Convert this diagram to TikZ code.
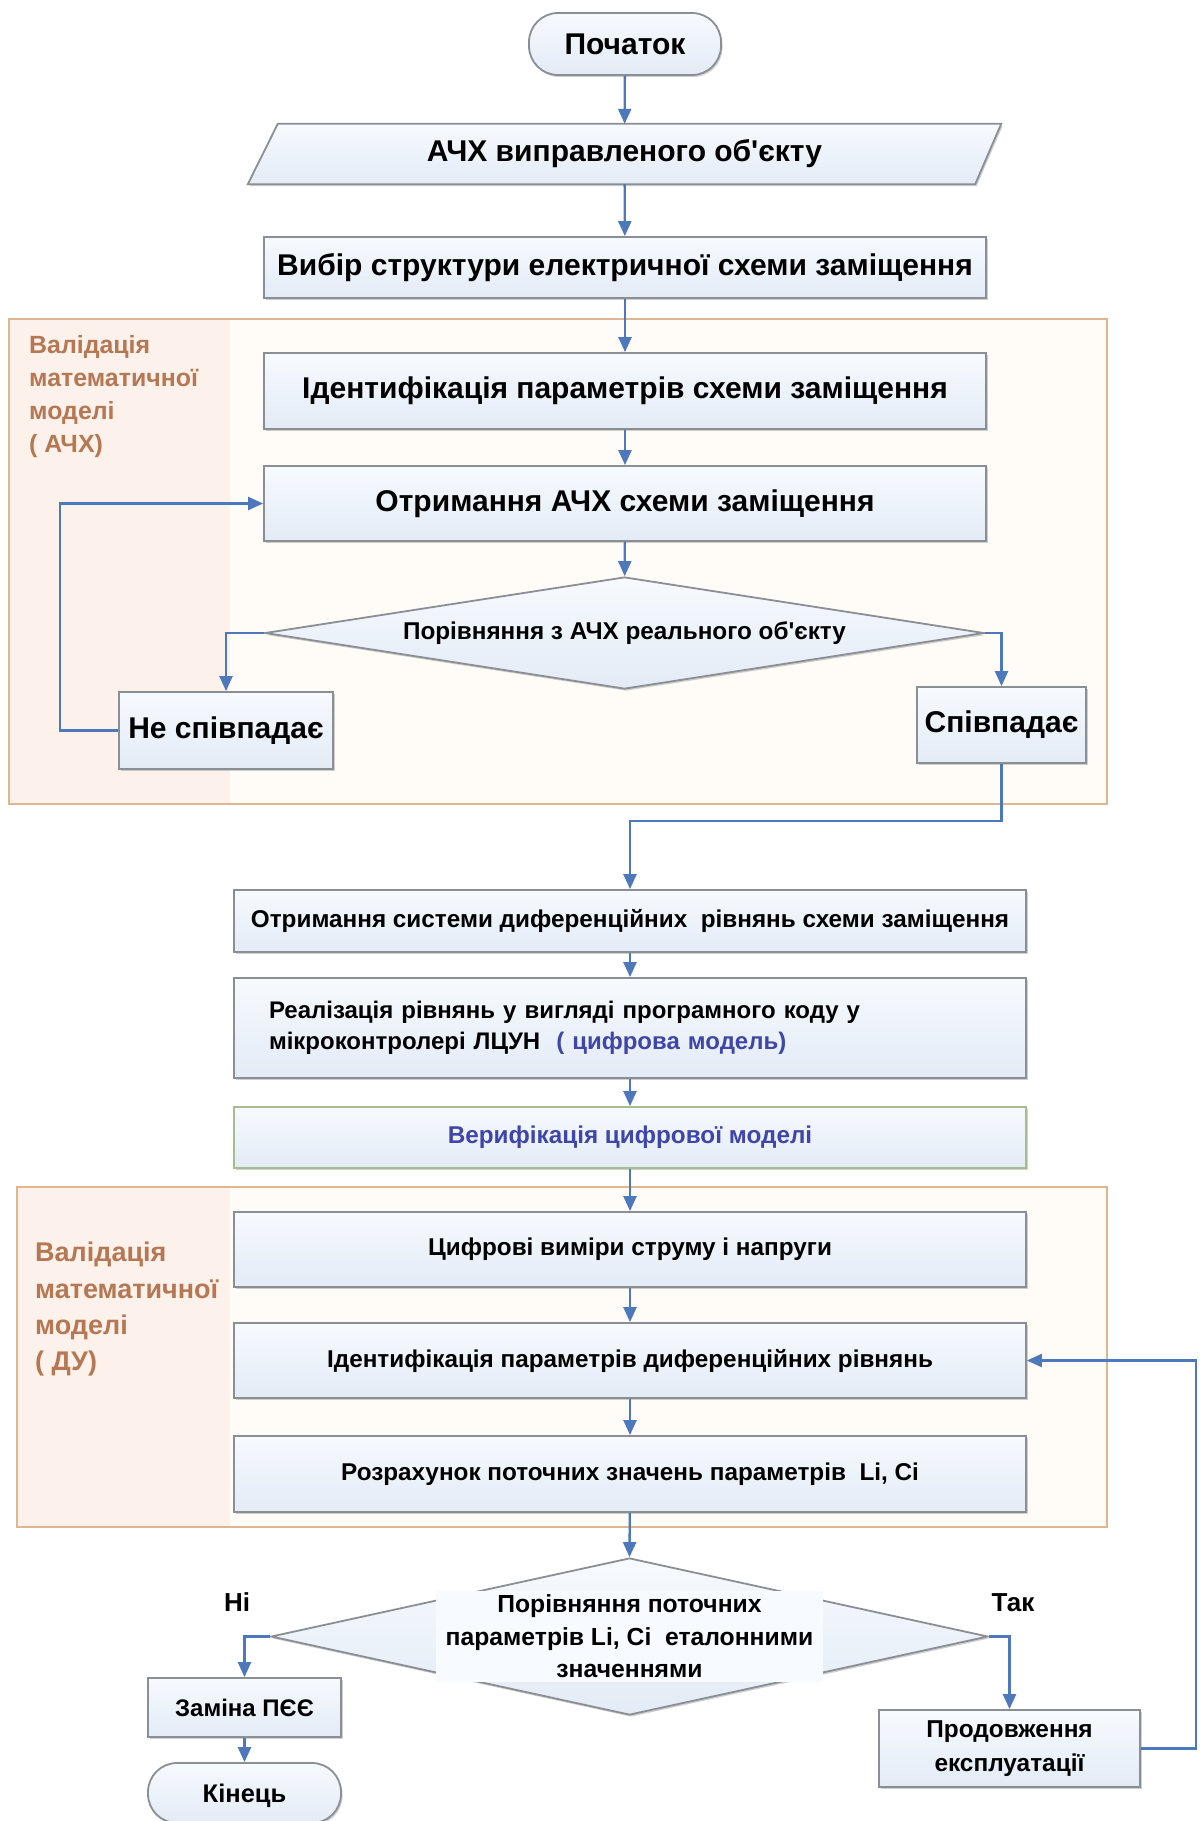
\documentclass[tikz,border=0pt]{standalone}
\usepackage{fontspec}
\setmainfont{Liberation Sans}[Ligatures=TeXOff]
\usetikzlibrary{arrows.meta,shapes.geometric,shadows,backgrounds,calc}

\definecolor{arrowblue}{HTML}{4E78BC}
\definecolor{boxline}{HTML}{8A8F96}
\definecolor{boxtop}{HTML}{F7FAFE}
\definecolor{boxbot}{HTML}{E3EBF6}
\definecolor{frameline}{HTML}{E0B690}
\definecolor{framefill}{HTML}{FFFBF7}
\definecolor{labelfill}{HTML}{FDF1EC}
\definecolor{labeltext}{HTML}{B57853}
\definecolor{verifline}{HTML}{A8BC92}
\definecolor{verifblue}{HTML}{3F46A8}

\begin{document}
\begin{tikzpicture}[x=1pt,y=-1pt,
  big/.style={font=\bfseries\fontsize{30}{36}\selectfont},
  mid/.style={font=\bfseries\fontsize{24.3}{31}\selectfont},
  lbl/.style={text=labeltext, align=left, anchor=north west, inner sep=0pt},
  boxshade/.style={top color=boxtop, bottom color=boxbot,
    drop shadow={shadow xshift=1.5pt, shadow yshift=-2pt, opacity=.3, fill=black!60}},
  box/.style={draw=boxline, line width=1.8pt, boxshade, inner sep=0pt, align=center},
  term/.style={box, rounded corners=29pt},
  decision/.style={box, diamond, aspect=6.4},
  flow/.style={draw=arrowblue, line width=2.3pt, -{Triangle[width=13pt,length=15pt]}},
  frame/.style={draw=frameline, line width=1.8pt},
]
\useasboundingbox (0,0) rectangle (1200,1821);

% page, validation frames and their shaded label columns
\begin{scope}[on background layer]
  \fill[white] (0,0) rectangle (1200,1821);
  \fill[framefill] (9,319) rectangle (1107,804);
  \fill[labelfill] (9,319) rectangle (230,804);
  \draw[frame] (9,319) rectangle (1107,804);
  \fill[framefill] (17,1187) rectangle (1107,1527);
  \fill[labelfill] (17,1187) rectangle (230,1527);
  \draw[frame] (17,1187) rectangle (1107,1527);
\end{scope}

\node[lbl, font=\bfseries\fontsize{24.9}{33}\selectfont] (lab1) at (29,335) {Валідація\\математичної\\моделі\\( АЧХ)};
\node[lbl, font=\bfseries\fontsize{27}{36.4}\selectfont] (lab2) at (35,1242) {Валідація\\математичної\\моделі\\( ДУ)};

% upper part
\node[term, big, minimum width=192pt, minimum height=62pt] (start) at (625,44) {Початок};
\node[big, minimum width=753pt, minimum height=60pt, inner sep=0pt] (inp) at (624.5,154) {АЧХ виправленого об'єкту};
\begin{scope}[on background layer]
  \path[box] ([xshift=30pt]inp.north west) -- (inp.north east)
    -- ([xshift=-26pt]inp.south east) -- (inp.south west) -- cycle;
\end{scope}
\node[box, big, minimum width=722pt, minimum height=61pt] (vyb) at (625,267.5) {Вибір структури електричної схеми заміщення};
\node[box, big, minimum width=722pt, minimum height=76pt] (ident) at (625,391) {Ідентифікація параметрів схеми заміщення};
\node[box, big, minimum width=722pt, minimum height=75pt] (otr) at (625,503.5) {Отримання АЧХ схеми заміщення};
\node[decision, font=\bfseries\fontsize{24.3}{28}\selectfont, minimum width=719pt, minimum height=112pt] (d1) at (624.5,633) {Порівняння з АЧХ реального об'єкту};
\node[box, big, minimum width=214pt, minimum height=77pt] (nesp) at (226,730.5) {Не співпадає};
\node[box, big, minimum width=169pt, minimum height=76pt] (sp) at (1001.5,725) {Співпадає};

% middle part
\node[box, mid, minimum width=792pt, minimum height=62pt] (sys) at (630,921) {Отримання системи диференційних \ рівнянь схеми заміщення};
\node[box, font=\bfseries\fontsize{24}{31}\selectfont, minimum width=792pt, minimum height=100pt, align=left, text width=722pt, inner xsep=35pt] (real) at (630,1028)
  {Реалізація рівнянь у вигляді програмного коду у\\мікроконтролері ЛЦУН \ {\color{verifblue}( цифрова модель)}\vphantom{p}\\[-6pt]};
\node[box, draw=verifline, mid, text=verifblue, minimum width=792pt, minimum height=61pt] (ver) at (630,1137.5) {Верифікація цифрової моделі};

% lower part
\node[box, mid, minimum width=792pt, minimum height=75pt] (cyf) at (630,1249.5) {Цифрові виміри струму і напруги};
\node[box, mid, minimum width=792pt, minimum height=75pt] (idd) at (630,1360.5) {Ідентифікація параметрів диференційних рівнянь};
\node[box, mid, minimum width=792pt, minimum height=76pt] (roz) at (630,1474) {Розрахунок поточних значень параметрів \ Li, Ci};
\node[decision, minimum width=717pt, minimum height=157pt] (d2) at (629.5,1636.5) {};
\node[fill=boxtop, inner xsep=10pt, inner ysep=4pt, align=center, font=\bfseries\fontsize{24.7}{32.5}\selectfont] (d2t) at (d2.center) {Порівняння поточних\\параметрів Li, Ci \ еталонними\\значеннями};
\node[box, font=\bfseries\fontsize{24}{30}\selectfont, minimum width=193pt, minimum height=59pt] (zam) at (244.5,1707.5) {Заміна ПЄЄ};
\node[term, font=\bfseries\fontsize{25.5}{30}\selectfont, minimum width=193pt, minimum height=60pt, text depth=0pt] (kin) at (244.5,1793) {Кінець\vphantom{Кц}};
\node[box, font=\bfseries\fontsize{24.4}{34}\selectfont, minimum width=261pt, minimum height=77pt] (prod) at (1009.5,1748.5) {Продовження\\експлуатації};
\node[font=\bfseries\fontsize{26}{30}\selectfont] (no) at (237,1602) {Ні};
\node[font=\bfseries\fontsize{26}{30}\selectfont] (yes) at (1013,1603) {Так};

% connectors
\draw[flow] (start) -- (inp);
\draw[flow] (inp) -- (vyb);
\draw[flow] (vyb) -- (ident);
\draw[flow] (ident) -- (otr);
\draw[flow] (otr) -- (d1);
\draw[flow] (d1.west) -| (nesp.north);
\draw[flow] (d1.east) -| (sp.north);
\draw[flow] (nesp.west) -- ++(-58,0) |- (otr.west);
\coordinate (spturn) at ($(sp.south)+(0,57)$);
\draw[flow] (sp.south) -- (spturn) -| (sys.north);
\draw[flow] (sys) -- (real);
\draw[flow] (real) -- (ver);
\draw[flow] (ver) -- (cyf);
\draw[flow] (cyf) -- (idd);
\draw[flow] (idd) -- (roz);
\draw[flow] (roz) -- (d2.north);
\draw[flow] (d2.west) -| (zam.north);
\draw[flow] (d2.east) -| (prod.north);
\draw[flow] (zam) -- (kin);
\draw[flow] (prod.east) -- ++(55,0) |- (idd.east);
\end{tikzpicture}
\end{document}
